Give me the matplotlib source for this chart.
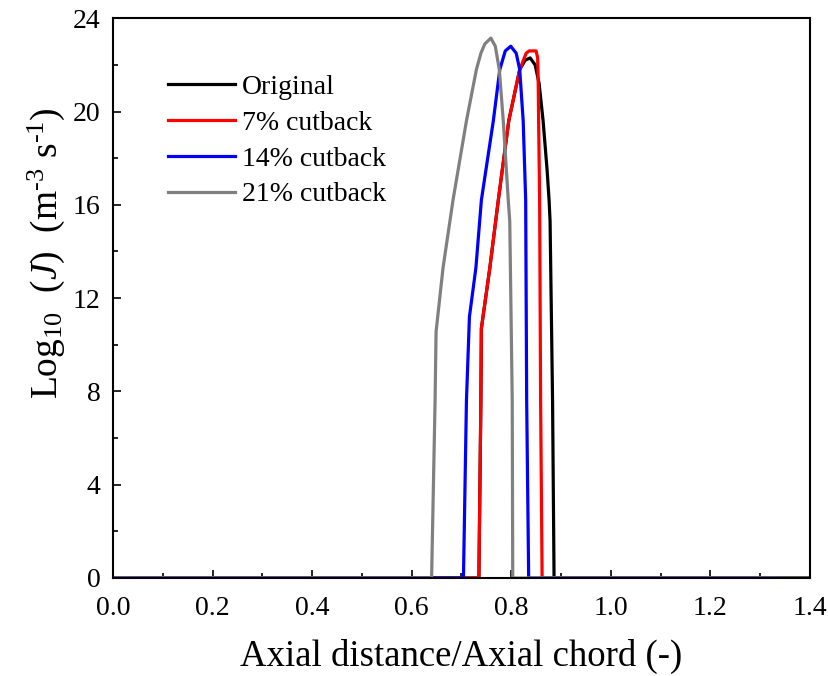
import matplotlib
matplotlib.use("Agg")
import matplotlib.pyplot as plt
from matplotlib.ticker import MultipleLocator

plt.rcParams['font.family'] = ['Liberation Serif', 'DejaVu Serif']
plt.rcParams['mathtext.fontset'] = 'custom'
plt.rcParams['mathtext.rm'] = 'Liberation Serif'
plt.rcParams['mathtext.it'] = 'Liberation Serif:italic'

# ---------- Data ----------
labels = ['Original', '7% cutback', '14% cutback', '21% cutback']
colors = ['black', 'red', 'blue', 'gray']

# black rising side sits under the red one
x_orig = [0.0, 0.735, 0.739, 0.740, 0.757, 0.774, 0.795, 0.817, 0.828, 0.838,
          0.848, 0.856, 0.864, 0.872, 0.876, 0.878, 0.883, 0.886, 1.40]
y_orig = [0.0, 0.0, 7.6, 10.7, 13.3, 16.2, 19.6, 21.8, 22.2, 22.3,
          22.0, 21.2, 19.6, 17.5, 16.2, 15.3, 7.6, 0.0, 0.0]

x_7 = [0.0, 0.735, 0.739, 0.740, 0.757, 0.774, 0.795, 0.817, 0.830, 0.836,
       0.850, 0.853, 0.854, 0.855, 0.857, 0.859, 0.862, 1.336]
y_7 = [0.0, 0.0, 7.6, 10.7, 13.3, 16.2, 19.6, 21.8, 22.5, 22.6,
       22.6, 22.3, 21.5, 19.6, 16.2, 7.6, 0.0, 0.0]

x_14 = [0.0, 0.704, 0.710, 0.716, 0.729, 0.740, 0.764, 0.777, 0.788, 0.799,
        0.810, 0.817, 0.824, 0.829, 0.831, 0.835, 1.336]
y_14 = [0.0, 0.0, 7.6, 11.2, 13.3, 16.2, 19.6, 21.8, 22.6, 22.8,
        22.5, 21.8, 19.6, 16.2, 7.6, 0.0, 0.0]

x_21 = [0.0, 0.640, 0.647, 0.649, 0.663, 0.683, 0.710, 0.730, 0.739, 0.747,
        0.759, 0.768, 0.776, 0.784, 0.794, 0.797, 0.802, 0.803, 1.336]
y_21 = [0.0, 0.0, 7.6, 10.56, 13.3, 16.2, 19.6, 21.8, 22.5, 22.9,
        23.15, 22.8, 21.8, 19.6, 16.2, 15.3, 7.6, 0.0, 0.0]

series = [(x_orig, y_orig), (x_7, y_7), (x_14, y_14), (x_21, y_21)]

# ---------- Plot ----------
fig = plt.figure(figsize=(8.29, 6.76), dpi=100)
ax = fig.add_axes([0.1363, 0.145, 0.977 - 0.1363, 0.973 - 0.145])

for (xs, ys), lab, c in zip(series, labels, colors):
    ax.plot(xs, ys, color=c, lw=2.3, label=lab, solid_joinstyle='round')

ax.set_xlim(0, 1.4)
ax.set_ylim(0, 24)
ax.xaxis.set_major_locator(MultipleLocator(0.2))
ax.xaxis.set_minor_locator(MultipleLocator(0.1))
ax.yaxis.set_major_locator(MultipleLocator(4))
ax.yaxis.set_minor_locator(MultipleLocator(2))
ax.tick_params(which='both', direction='in', top=False, right=False, labelsize=20)
ax.tick_params(which='major', length=6, width=1.2)
ax.tick_params(which='minor', length=3.5, width=1.2)
ax.tick_params(axis='y', pad=9)
ax.tick_params(axis='x', pad=13)
for sp in ax.spines.values():
    sp.set_linewidth(1.5)

ax.set_xticklabels([f'{v:.1f}' for v in ax.get_xticks()])
ax.set_xlabel('Axial distance/Axial chord (-)', fontsize=26.5)
ax.xaxis.set_label_coords(0.5, -0.108)
ax.set_ylabel(r'Log$_{10}$  ($\mathit{J}$)  (m$^{\text{-3}}$ s$^{\text{-1}}$)', fontsize=27)
ax.yaxis.set_label_coords(-0.066, 0.58)

ax.legend(loc='upper left', bbox_to_anchor=(0.063, 0.919), frameon=False,
          fontsize=20, handlelength=2.4, handletextpad=0.25, labelspacing=0.37,
          borderaxespad=0)

fig.savefig('out.png', dpi=100)
